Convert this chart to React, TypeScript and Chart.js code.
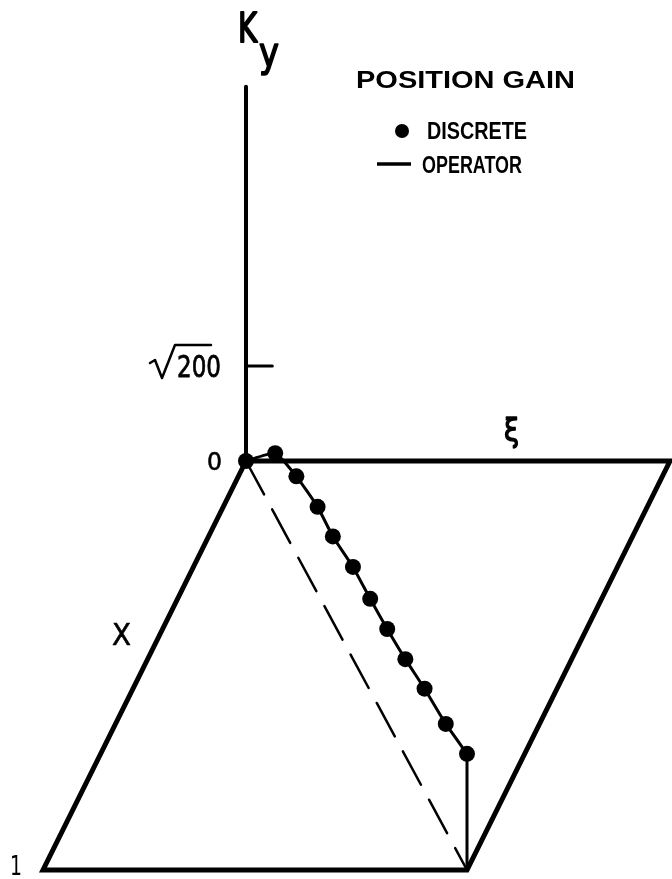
import React, { useEffect, useRef } from "react";
import { Chart, registerables } from "chart.js";

Chart.register(...registerables);

// Position gain along the diagonal of the (ξ, X) plane, where ξ = X.
const GAIN_POSITION = [0, 0.132, 0.228, 0.324, 0.393, 0.484, 0.562, 0.639, 0.721, 0.808, 0.904, 1.0];
const GAIN_KY = [0, 9.2, 11.6, 12.9, 12.7, 13.7, 13.7, 13.9, 14.4, 15.3, 15.9, 17.3];

// Vertical axis ticks
const KY_TICK_VALUES = [0, Math.sqrt(200)];
const KY_AXIS_TOP = 55.7;

// Oblique projection of (ξ, X, Ky) onto the page plane (pixels, y downward)
const W = 672;
const H = 879;
const PROJ = {
  ox: 246,
  oy: 461,
  xiLen: 424,
  xDx: -203,
  xDy: 409,
  kPx: 6.717,
};

function project(xi: number, x: number, k: number) {
  return {
    x: PROJ.ox + xi * PROJ.xiLen + x * PROJ.xDx,
    y: PROJ.oy + x * PROJ.xDy - k * PROJ.kPx,
  };
}

const FONT = "'DejaVu Sans', 'Liberation Sans', sans-serif";
const LEGEND_FONT = "'Liberation Sans', Arial, sans-serif";

// Draws text left-aligned at (x, y) squeezed or stretched to a given width,
// optionally thickened with an outline of the given width.
function fitText(
  ctx: CanvasRenderingContext2D,
  text: string,
  x: number,
  y: number,
  width: number,
  outline = 0
) {
  const w = ctx.measureText(text).width;
  const sx = width / w;
  ctx.save();
  ctx.translate(x, y);
  ctx.scale(sx, 1);
  ctx.textAlign = "left";
  ctx.fillText(text, 0, 0);
  if (outline > 0) {
    ctx.lineWidth = outline / sx;
    ctx.lineJoin = "round";
    ctx.strokeText(text, 0, 0);
  }
  ctx.restore();
}

const labelPlugin = {
  id: "diagramLabels",
  afterDraw(chart: any) {
    const ctx: CanvasRenderingContext2D = chart.ctx;
    ctx.save();
    ctx.fillStyle = "#000";
    ctx.strokeStyle = "#000";
    ctx.textBaseline = "alphabetic";
    ctx.lineCap = "round";
    ctx.lineJoin = "round";

    // Axis name Ky
    ctx.font = `41px ${FONT}`;
    fitText(ctx, "K", 238, 42, 19, 1.4);
    ctx.font = `40px ${FONT}`;
    fitText(ctx, "y", 259, 66, 20, 1.4);

    // Tick labels on the Ky axis
    const o = project(0, 0, KY_TICK_VALUES[0]);
    ctx.font = `25px ${FONT}`;
    fitText(ctx, "0", 207, o.y + 9, 15, 0.6);

    const t = project(0, 0, KY_TICK_VALUES[1]);
    ctx.font = `30px ${FONT}`;
    const base = t.y + 11;
    fitText(ctx, "200", 177, base, 44, 0.6);
    // radical sign with its bar over the digits
    ctx.lineWidth = 2.5;
    ctx.beginPath();
    ctx.moveTo(150, base - 14);
    ctx.lineTo(155, base - 17);
    ctx.lineTo(162, base + 1);
    ctx.lineTo(175, base - 32);
    ctx.lineTo(211, base - 32);
    ctx.stroke();

    // Plane axis names
    ctx.font = `32px ${FONT}`;
    fitText(ctx, "ξ", 504, 441, 15, 1.2);
    ctx.font = `30px ${FONT}`;
    fitText(ctx, "X", 112, 645, 19, 0.5);
    ctx.font = `26px ${FONT}`;
    fitText(ctx, "1", 10, 875, 12);

    // Legend
    ctx.font = `bold 24px ${LEGEND_FONT}`;
    fitText(ctx, "POSITION GAIN", 356, 88, 219);
    fitText(ctx, "DISCRETE", 427, 139, 100);
    fitText(ctx, "OPERATOR", 422, 173, 100);
    ctx.beginPath();
    ctx.arc(402, 131, 7, 0, Math.PI * 2);
    ctx.fill();
    ctx.lineWidth = 3.5;
    ctx.lineCap = "butt";
    ctx.beginPath();
    ctx.moveTo(377, 164);
    ctx.lineTo(411, 164);
    ctx.stroke();

    ctx.restore();
  },
};

export default function App() {
  const canvasRef = useRef<HTMLCanvasElement | null>(null);

  useEffect(() => {
    document.body.style.margin = "0";
    const canvas = canvasRef.current;
    if (!canvas) return;

    const origin = project(0, 0, 0);
    const plane = [
      project(0, 0, 0),
      project(1, 0, 0),
      project(1, 1, 0),
      project(0, 1, 0),
      project(0, 0, 0),
    ];
    const kAxis = [project(0, 0, 0), project(0, 0, KY_AXIS_TOP)];
    const tick = [project(0, 0, KY_TICK_VALUES[1]), project(0.062, 0, KY_TICK_VALUES[1])];
    const diagonal = [origin, project(1, 1, 0)];
    const last = GAIN_POSITION.length - 1;
    const drop = [
      project(GAIN_POSITION[last], GAIN_POSITION[last], GAIN_KY[last]),
      project(GAIN_POSITION[last], GAIN_POSITION[last], 0),
    ];
    const gain = GAIN_POSITION.map((p, i) => project(p, p, GAIN_KY[i]));

    const lineDs = (data: any[], width: number, dash: number[] = []) => ({
      type: "line" as const,
      data,
      showLine: true,
      borderColor: "#000",
      borderWidth: width,
      borderDash: dash,
      borderCapStyle: "round" as const,
      borderJoinStyle: "miter" as const,
      pointRadius: 0,
      tension: 0,
      clip: false as any,
    });

    const chart = new Chart(canvas, {
      type: "scatter",
      data: {
        datasets: [
          lineDs(plane, 5),
          lineDs(kAxis, 4),
          lineDs(tick, 3),
          lineDs(diagonal, 2.5, [38, 17]),
          lineDs(drop, 3),
          {
            type: "line" as const,
            label: "DISCRETE",
            data: gain,
            showLine: true,
            borderColor: "#000",
            borderWidth: 3,
            backgroundColor: "#000",
            pointBackgroundColor: "#000",
            pointBorderWidth: 0,
            pointRadius: 8,
            tension: 0.15,
            clip: false as any,
          },
        ],
      },
      options: {
        responsive: false,
        animation: false,
        events: [],
        layout: { padding: 0, autoPadding: false },
        plugins: {
          legend: { display: false },
          tooltip: { enabled: false },
        },
        scales: {
          x: { type: "linear", min: 0, max: W, display: false },
          y: { type: "linear", min: 0, max: H, reverse: true, display: false },
        },
      },
      plugins: [labelPlugin],
    });

    return () => chart.destroy();
  }, []);

  return (
    <div style={{ width: W, height: H, background: "#fff" }}>
      <canvas ref={canvasRef} width={W} height={H} style={{ display: "block" }} />
    </div>
  );
}
